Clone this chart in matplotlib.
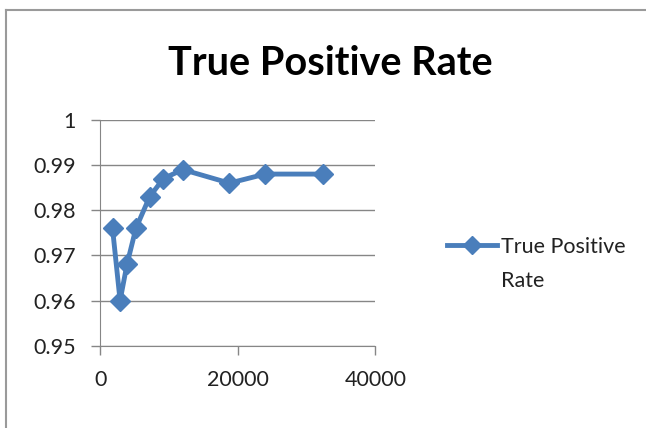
import matplotlib.pyplot as plt
from matplotlib.lines import Line2D

# data
sizes = [1800, 2900, 3900, 5200, 7200, 9200, 12000, 18800, 24000, 32400]
tpr = [0.976, 0.960, 0.968, 0.976, 0.983, 0.987, 0.989, 0.986, 0.988, 0.988]
legend_lines = ['True Positive', 'Rate']
y_ticks = [0.95, 0.96, 0.97, 0.98, 0.99, 1]
y_labels = ['0.95', '0.96', '0.97', '0.98', '0.99', '1']
x_ticks = [0, 20000, 40000]

plt.rcParams['font.family'] = ['Lato', 'DejaVu Sans']

fig = plt.figure(figsize=(6.46, 4.28), dpi=100)
ax = fig.add_axes([0.155, 0.192, 0.426, 0.528])

blue = '#4a7ebb'
grey = '#868686'
text_col = '#222222'

ax.plot(sizes, tpr, color=blue, lw=3.5, marker='D', ms=10, zorder=3)

ax.set_xlim(0, 40000)
ax.set_ylim(0.95, 1)
ax.set_yticks(y_ticks)
ax.set_yticklabels(y_labels)
ax.set_xticks(x_ticks)
ax.grid(axis='y', color=grey, lw=1)
ax.tick_params(axis='both', colors=grey, labelcolor=text_col, labelsize=15.5, length=6.5, width=1)
ax.tick_params(axis='y', pad=11)
ax.tick_params(axis='x', pad=11)
for s in ['top', 'right']:
    ax.spines[s].set_visible(False)
for s in ['left', 'bottom']:
    ax.spines[s].set_color(grey)

fig.text(0.511, 0.852, 'True Positive Rate', ha='center', va='center',
         fontsize=28.5, fontweight='bold', color='black')

# legend: first line carries the marker, second line is the wrapped text
handle = Line2D([], [], color=blue, lw=3.5, marker='D', ms=9)
blank = Line2D([], [], color='none')
fig.legend([handle, blank], legend_lines, loc='upper left', bbox_to_anchor=(0.662, 0.492),
           frameon=False, fontsize=15.5, handlelength=2.33, handletextpad=0.2,
           labelspacing=0.65, labelcolor=text_col)

# outer chart border (only left and top visible)
fig.add_artist(Line2D([0.009, 0.009], [0, 0.977], color='#9a9a9a', lw=1.5))
fig.add_artist(Line2D([0.009, 1], [0.977, 0.977], color='#9a9a9a', lw=1.5))

fig.savefig('out.png', dpi=100)
